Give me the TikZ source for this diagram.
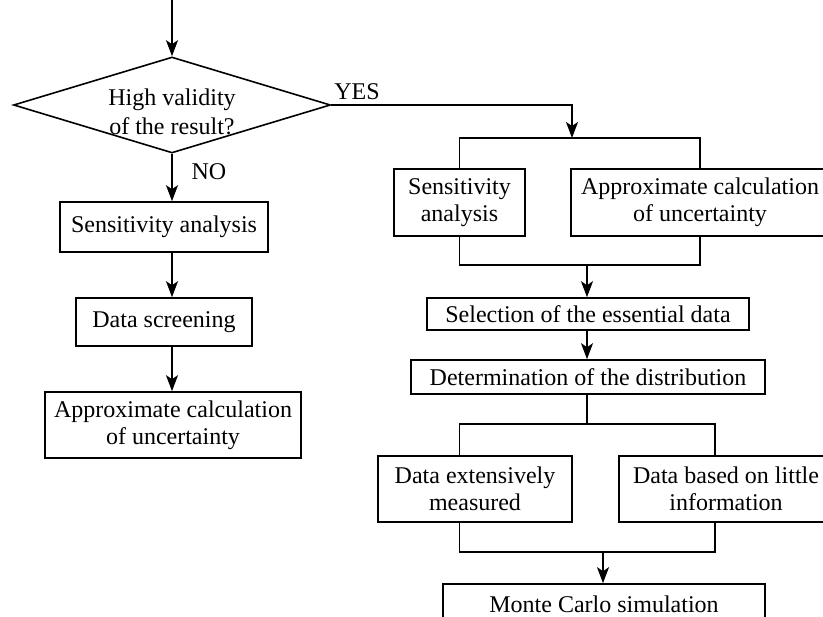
\documentclass[tikz,border=0pt]{standalone}
\usepackage{fontspec}
\setmainfont{Liberation Serif}
\usetikzlibrary{shapes.geometric,arrows.meta}

\begin{document}
\begin{tikzpicture}[x=1pt,y=-1pt,
        every node/.style={font=\fontsize{24}{27}\selectfont},
        box/.style={draw, line width=1.6pt, align=center, inner sep=0pt},
        arr/.style={line width=1.6pt, -{Stealth[length=16pt,width=12pt,inset=4pt]}},
        ln/.style={line width=1.6pt}]
        \clip (0,0) rectangle (823,617);
        % left branch
        \coordinate (start) at (172,0);
        \node[box, shape=diamond, aspect=3.3, minimum width=317pt, minimum height=96pt] (valid) at (172,105) {};
        \node[align=center, font=\fontsize{24}{29}\selectfont] (validtext) at (172,112) {High validity\\of the result?};
        \node[box, minimum width=208pt, minimum height=50pt] (sens1) at (164,227) {Sensitivity analysis};
        \node[box, minimum width=176pt, minimum height=48pt] (screen) at (164,322) {Data screening};
        \node[box, minimum width=256pt, minimum height=66pt] (approx1) at (173,425) {Approximate calculation\\of uncertainty};
        \node (no) at (209,172) {NO};
        \node (yes) at (357,92) {YES};
        \draw[arr] (start) -- (valid.north);
        \draw[arr] (valid.south) -- (valid.south |- sens1.north);
        \draw[arr] (valid.south |- sens1.south) -- (valid.south |- screen.north);
        \draw[arr] (valid.south |- screen.south) -- (valid.south |- approx1.north);
        % right branch
        \node[box, minimum width=131pt, minimum height=67pt] (sens2) at (459.5,202.5) {Sensitivity\\analysis};
        \node[box, minimum width=258pt, minimum height=67pt] (approx2) at (700,202.5) {Approximate calculation\\of uncertainty};
        \node[box, minimum width=322pt, minimum height=32pt] (select) at (588,314) {Selection of the essential data};
        \node[box, minimum width=354pt, minimum height=34pt] (distr) at (588,377) {Determination of the distribution};
        \node[box, minimum width=194pt, minimum height=66pt] (meas) at (475,489) {Data extensively\\measured};
        \node[box, minimum width=214pt, minimum height=66pt] (little) at (726,489) {Data based on little\\information};
        \node[box, minimum width=322pt, minimum height=40pt] (mc) at (604,604) {Monte Carlo simulation};
        \coordinate (fork1) at (572,138);
        \coordinate (join1) at (587,265);
        \coordinate (fork2) at (587,424);
        \coordinate (join2) at (603,552);
        \draw[arr] (valid.east) -| (fork1);
        \draw[ln] (sens2.north) |- (fork1) -| (approx2.north);
        \draw[ln] (sens2.south) |- (join1) -| (approx2.south);
        \draw[arr] (join1) -- (join1 |- select.north);
        \draw[arr] (join1 |- select.south) -- (join1 |- distr.north);
        \draw[ln] (join1 |- distr.south) -- (fork2);
        \draw[ln] (sens2.north |- meas.north) |- (fork2) -| ([xshift=-11pt]little.north);
        \draw[ln] (sens2.north |- meas.south) |- (join2) -| ([xshift=-11pt]little.south);
        \draw[arr] (join2) -- (join2 |- mc.north);
\end{tikzpicture}
\end{document}
